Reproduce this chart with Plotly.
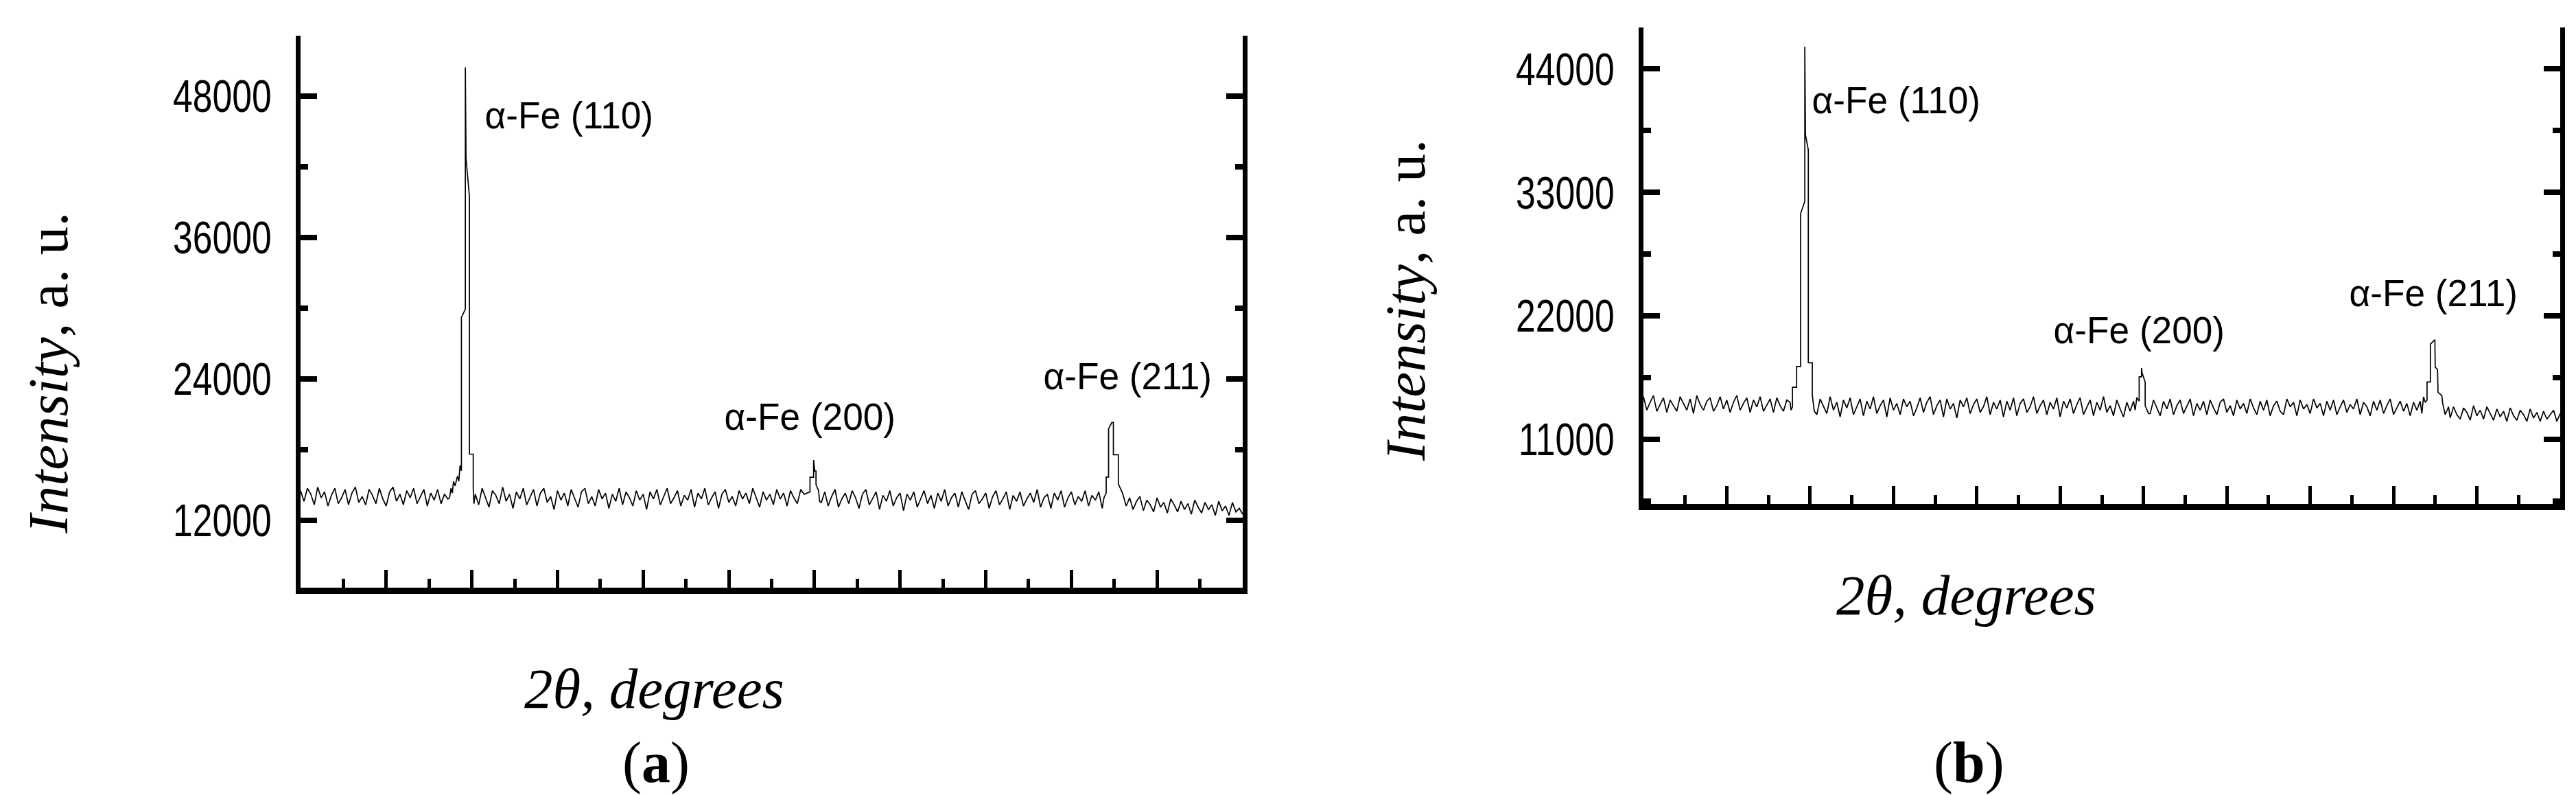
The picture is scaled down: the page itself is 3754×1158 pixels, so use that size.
import plotly.graph_objects as go

W, H = 3754, 1158

# sampling of the background trace (degrees 2-theta)
theta_start = 35.0
theta_step = 0.2

# ---------------- panel (a) ----------------
bg_a = [
    14500, 13600, 14700, 14200, 13300, 14800, 13900, 14400, 13200, 14100,
    14700, 13400, 13900, 14600, 13300, 14300, 14800, 13500, 14000, 13300,
    14600, 14100, 13400, 14700, 13800, 13200, 14400, 14800, 13600, 14200,
    13300, 14500, 13900, 14700, 13400, 14000, 14600, 13200, 14300, 13700,
    14600, 13400, 14200, 13800, 14300, 14800, 15500, 16000, 14000, 14000,
    14000, 14200, 13300, 14700, 13900, 13100, 14500, 14100, 13400, 14800,
    13600, 14200, 13000, 14400, 13800, 14700, 13300, 13900, 14600, 13200,
    14300, 14700, 13500, 14000, 12900, 14500, 13700, 14300, 13200, 14600,
    13900, 13100, 14400, 14700, 13400, 14000, 13200, 14600, 13800, 14300,
    13000, 14200, 13600, 14700, 13300, 14400, 13900, 13200, 14500, 13700,
    14200, 12900, 14400, 13800, 14600, 13300, 14000, 14700, 13400, 13900,
    14500, 13200, 14100, 13700, 14600, 13100, 14300, 13800, 14700, 13300,
    13900, 14400, 13000, 14200, 14600, 13500, 14000, 13200, 14500, 13800,
    14300, 13400, 14700, 13900, 13100, 14400, 13700, 14200, 13300, 14600,
    13800, 14300, 13200, 14500, 13900, 13400, 14600, 14200, 14800, 15500,
    15000, 14000, 13500, 14400, 13200, 14000, 14600, 13100, 13800, 14300,
    13400, 14500, 13900, 13000, 14200, 14600, 13300, 13900, 14400, 12900,
    14100, 13600, 14500, 13200, 13900, 14300, 12800, 14200, 13700, 14400,
    13100, 13800, 14500, 13400, 14100, 13000, 14300, 13600, 14600, 13200,
    13900, 14300, 13100, 14400, 13700, 12900, 14200, 14500, 13400, 13800,
    14300, 13000, 14000, 14500, 13300, 13800, 14400, 12900, 14100, 13600,
    14400, 13200, 13800, 14300, 13500, 14600, 13100, 13900, 14200, 13000,
    14300, 13700, 14500, 13100, 13900, 14400, 13300, 14000, 13600, 14500,
    13200, 14100, 13700, 14400, 13000, 13600, 14500, 14800, 15000, 14400,
    14100, 13200, 13900, 12900, 13600, 14000, 12800, 13700, 13300, 12700,
    13900, 13100, 13500, 12600, 13800, 13300, 12700, 13600, 12900, 13400,
    12500, 13700, 13100, 12600, 13500, 12900, 13300, 12400, 13600, 12800,
    13200, 12400, 13500, 12700, 13000, 12500,
]

a110_x = [43.70, 43.78, 43.86, 43.93, 44.02, 44.16, 44.24, 44.31, 44.39, 44.39,
          44.62, 44.62, 44.66, 44.86, 44.86, 45.08, 45.08, 45.12]
a110_y = [13900, 14700, 14300, 15300, 14900, 15740, 15300, 16640, 16180, 29200,
          29900, 50400, 42700, 39400, 17600, 17600, 14700, 13400]

a200_x = [64.60, 64.74, 64.74, 64.95, 64.95, 65.02, 65.09, 65.09, 65.24, 65.30]
a200_y = [14300, 14400, 15640, 15640, 17100, 16170, 16170, 15000, 14500, 13600]

a211_x = [81.90, 82.03, 82.03, 82.17, 82.17, 82.36, 82.45, 82.45, 82.74, 82.74, 82.98, 83.10]
a211_y = [13900, 14300, 15660, 15660, 19740, 20290, 20290, 17550, 17550, 15070, 14300, 13700]

# ---------------- panel (b) ----------------
bg_b = [
    14800, 13600, 14300, 14900, 13500, 14100, 14700, 13400, 14500, 14000,
    13500, 14800, 14200, 13600, 14600, 13300, 14900, 14100, 13600, 14400,
    14700, 13500, 14000, 14800, 13700, 14500, 13400, 14300, 14900, 13600,
    14200, 14700, 13400, 14500, 13900, 14800, 13500, 14100, 14600, 13400,
    14700, 14000, 13500, 14500, 14300, 15600, 17400, 17000, 17800, 15000,
    14900, 14300, 13200, 14600, 14000, 13300, 14800, 13600, 14300, 13000,
    14500, 13800, 14700, 13200, 13900, 14600, 13100, 14400, 13700, 14800,
    13300, 14000, 14500, 13000, 14700, 13600, 14200, 13200, 14600, 13900,
    14400, 13100, 13800, 14700, 13400, 14300, 14800, 13200, 14000, 14500,
    13000, 14600, 13700, 14200, 12900, 14500, 13900, 14700, 13300, 14100,
    14600, 13400, 13900, 14800, 13200, 14300, 13700, 14500, 13000, 14400,
    13600, 14700, 13100, 14200, 14600, 13400, 13900, 14800, 13300, 14000,
    14500, 13200, 14300, 13700, 14700, 13000, 14400, 13800, 14600, 13300,
    14100, 14700, 13200, 13800, 14500, 13100, 14300, 13600, 14800, 13400,
    14000, 13100, 14500, 13700, 13000, 14300, 13500, 14400, 14700, 16000,
    16000, 14500, 13300, 14500, 13800, 13100, 14400, 13700, 14600, 13200,
    14000, 14500, 13300, 13900, 14600, 13100, 14200, 13600, 14400, 13200,
    14500, 13800, 13200, 14300, 14600, 13400, 14000, 13100, 14500, 13700,
    14200, 13300, 14600, 13800, 13200, 14400, 13600, 14500, 13100, 14000,
    14400, 13500, 13200, 14600, 13900, 14300, 13100, 14500, 13700, 14100,
    13300, 14600, 13800, 14200, 13100, 14400, 13600, 14500, 13200, 13900,
    14500, 13400, 14100, 13700, 14600, 13200, 14300, 13900, 13100, 14400,
    13600, 14500, 13300, 14000, 14600, 13200, 13800, 14400, 13500, 14200,
    13100, 14300, 13600, 14400, 14800, 16000, 19000, 17000, 15200, 14400,
    14000, 13400, 12900, 13900, 13200, 12800, 13800, 13400, 12700, 14000,
    13100, 13600, 12800, 13900, 13300, 12700, 13700, 13000, 13500, 12600,
    13800, 13100, 12700, 13600, 13200, 12600, 13700, 12900, 13400, 12600,
    13500, 12800, 13200, 13600, 12600, 13300,
]

b110_x = [43.85, 43.94, 43.94, 44.19, 44.19, 44.43, 44.43, 44.68, 44.68, 44.72,
          44.89, 44.89, 45.13, 45.13, 45.25]
b110_y = [13600, 13900, 15640, 15640, 17480, 17480, 31110, 32200, 45970, 38120,
          36780, 17820, 17820, 14920, 13500]

b200_x = [64.50, 64.60, 64.74, 64.74, 64.88, 64.88, 64.92, 65.10, 65.10, 65.30]
b200_y = [13600, 14730, 14400, 16570, 16570, 17350, 16900, 16100, 14000, 13300]

b211_x = [81.70, 81.80, 81.90, 82.01, 82.01, 82.21, 82.21, 82.48, 82.50, 82.64,
          82.67, 82.90, 82.94, 83.10, 83.30]
b211_y = [13300, 14790, 14300, 14500, 16110, 16110, 19470, 19880, 17430, 17230,
          15200, 14890, 14280, 13200, 13900]

peak_labels = ["α-Fe (110)", "α-Fe (200)", "α-Fe (211)"]
y_title = "<i>Intensity</i>, a. u."
x_title = "<i>2θ, degrees</i>"
panel_tags = ["(<b>a</b>)", "(<b>b</b>)"]


def build(bg, peaks):
    xs = [round(theta_start + theta_step * i, 2) for i in range(len(bg))]
    pts = [(x, y) for x, y in zip(xs, bg)
           if not any(px[0] <= x <= px[-1] for px, _ in peaks)]
    for px, py in peaks:
        pts += list(zip(px, py))
    pts.sort(key=lambda p: p[0])
    return [p[0] for p in pts], [p[1] for p in pts]


xa, ya = build(bg_a, [(a110_x, a110_y), (a200_x, a200_y), (a211_x, a211_y)])
xb, yb = build(bg_b, [(b110_x, b110_y), (b200_x, b200_y), (b211_x, b211_y)])

fig = go.Figure()
line = dict(color="black", width=1.7)
fig.add_trace(go.Scatter(x=xa, y=ya, mode="lines", line=line, xaxis="x", yaxis="y",
                         hoverinfo="skip"))
fig.add_trace(go.Scatter(x=xb, y=yb, mode="lines", line=line, xaxis="x2", yaxis="y2",
                         hoverinfo="skip"))

tickfam = "Liberation Sans, Arial"


def xax(dom):
    return dict(domain=dom, range=[35, 90], showline=True, linewidth=9, linecolor="black",
                ticks="inside", ticklen=26, tickwidth=5, tickcolor="black",
                tick0=35, dtick=5, showticklabels=False, showgrid=False, zeroline=False,
                minor=dict(ticks="inside", tick0=35, dtick=2.5, ticklen=13, tickwidth=5,
                           tickcolor="black", showgrid=False))


def yax(dom, rng, dt, anchor):
    return dict(domain=dom, range=rng, showline=True, linewidth=7, linecolor="black",
                mirror="ticks", ticks="inside", ticklen=24, tickwidth=8, tickcolor="black",
                tick0=0, dtick=dt, tickformat="d", showgrid=False, zeroline=False,
                tickfont=dict(family=tickfam, size=67, color="black"),
                ticklabelstandoff=22, anchor=anchor,
                minor=dict(ticks="inside", tick0=0, dtick=dt / 2, ticklen=11, tickwidth=8,
                           tickcolor="black", showgrid=False))


fig.update_layout(
    width=W, height=H, autosize=False,
    margin=dict(l=0, r=0, t=0, b=0),
    paper_bgcolor="white", plot_bgcolor="white", showlegend=False,
    xaxis=xax([430 / W, 1803 / W]) | dict(anchor="y"),
    yaxis=yax([1 - 848 / H, 1 - 44 / H], [6270, 53100], 12000, "x"),
    xaxis2=xax([2387 / W, 3723 / W]) | dict(anchor="y2"),
    yaxis2=yax([1 - 726 / H, 1 - 31.7 / H], [5250, 47700], 11000, "x2"),
)

ann = []
sans = dict(family="Liberation Sans, Arial", size=56, color="black")
serif = dict(family="Liberation Serif, Times New Roman", size=83, color="black")
label_pos = [
    [(690, 159), (1039, 598), (1504, 539)],
    [(2624, 138), (2976, 472), (3407, 418)],
]
for panel in label_pos:
    for txt, (px, py) in zip(peak_labels, panel):
        ann.append(dict(text=txt, x=px / W, y=1 - py / H, xref="paper", yref="paper",
                        xanchor="left", yanchor="middle", showarrow=False, font=sans))

for cx, cy in [(62, 536), (2040, 430)]:
    ann.append(dict(text=y_title, x=cx / W, y=1 - cy / H, xref="paper", yref="paper",
                    xanchor="center", yanchor="middle", textangle=-90, showarrow=False,
                    font=serif))
for cx, cy in [(946, 995), (2857, 859)]:
    ann.append(dict(text=x_title, x=cx / W, y=1 - cy / H, xref="paper", yref="paper",
                    xanchor="center", yanchor="middle", showarrow=False, font=serif))
for tag, cx in zip(panel_tags, [948, 2861]):
    ann.append(dict(text=tag, x=cx / W, y=1 - 1103 / H, xref="paper", yref="paper",
                    xanchor="center", yanchor="middle", showarrow=False,
                    font=dict(family="Liberation Serif, Times New Roman", size=84,
                              color="black")))
fig.update_layout(annotations=ann)

# The reference tick numbers and peak labels are set in a slightly condensed
# face; squeeze the (real, selectable) text horizontally to match.
post = """
var gd = document.getElementById('{plot_id}');
function squeezeText(){
  gd.querySelectorAll('g.ytick text, g.y2tick text').forEach(function(t){
    if (t.getAttribute('lengthAdjust')) return;
    var w = t.getComputedTextLength();
    t.setAttribute('textLength', (w * 0.77).toFixed(1));
    t.setAttribute('lengthAdjust', 'spacingAndGlyphs');
  });
  gd.querySelectorAll('g.annotation-text-g text').forEach(function(t){
    if (t.getAttribute('lengthAdjust')) return;
    if ((t.textContent || '').indexOf('\\u03b1') !== 0) return;
    var w = t.getComputedTextLength();
    t.setAttribute('textLength', (w * 0.95).toFixed(1));
    t.setAttribute('lengthAdjust', 'spacingAndGlyphs');
  });
}
squeezeText();
gd.on('plotly_afterplot', squeezeText);
"""

fig.write_html("out.html", post_script=post)
